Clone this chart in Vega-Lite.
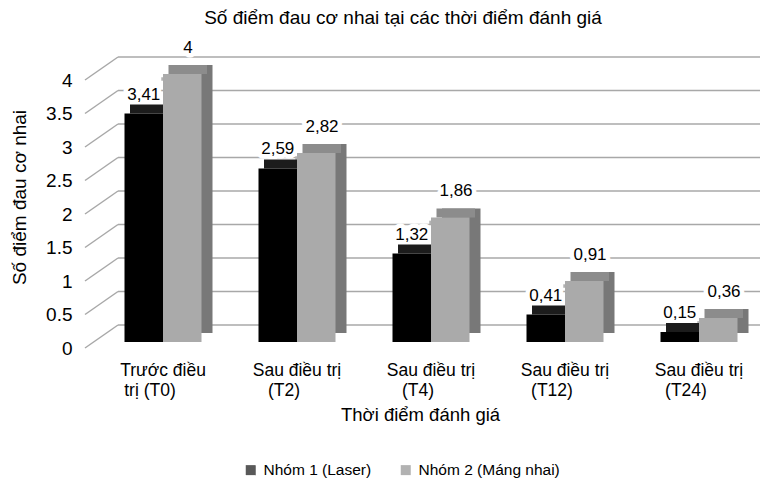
{
  "$schema": "https://vega.github.io/schema/vega-lite/v6.json",
  "width": 670,
  "height": 268,
  "autosize": {"type": "none"},
  "padding": {"left": 96, "top": 74, "right": 13, "bottom": 138},
  "background": "white",
  "title": {"text": "Số điểm đau cơ nhai tại các thời điểm đánh giá", "font": "Liberation Sans", "fontSize": 19, "fontWeight": "normal", "color": "#000000", "offset": 11, "dx": -28},
  "datasets": {
    "bars": [
      {"cat": "Trước điều trị (T0)", "g": "Nhóm 1 (Laser)", "v": 3.41, "lbl": "3,41"},
      {"cat": "Sau điều trị (T2)", "g": "Nhóm 1 (Laser)", "v": 2.59, "lbl": "2,59"},
      {"cat": "Sau điều trị (T4)", "g": "Nhóm 1 (Laser)", "v": 1.32, "lbl": "1,32"},
      {"cat": "Sau điều trị (T12)", "g": "Nhóm 1 (Laser)", "v": 0.41, "lbl": "0,41"},
      {"cat": "Sau điều trị (T24)", "g": "Nhóm 1 (Laser)", "v": 0.15, "lbl": "0,15"},
      {"cat": "Trước điều trị (T0)", "g": "Nhóm 2 (Máng nhai)", "v": 4, "lbl": "4"},
      {"cat": "Sau điều trị (T2)", "g": "Nhóm 2 (Máng nhai)", "v": 2.82, "lbl": "2,82"},
      {"cat": "Sau điều trị (T4)", "g": "Nhóm 2 (Máng nhai)", "v": 1.86, "lbl": "1,86"},
      {"cat": "Sau điều trị (T12)", "g": "Nhóm 2 (Máng nhai)", "v": 0.91, "lbl": "0,91"},
      {"cat": "Sau điều trị (T24)", "g": "Nhóm 2 (Máng nhai)", "v": 0.36, "lbl": "0,36"}
    ],
    "grid": [
      {"v": 0}, {"v": 0.5}, {"v": 1}, {"v": 1.5}, {"v": 2}, {"v": 2.5}, {"v": 3}, {"v": 3.5}, {"v": 4}
    ]
  },
  "config": {
    "view": {"stroke": null},
    "font": "Liberation Sans",
    "axis": {"labelFont": "Liberation Sans", "titleFont": "Liberation Sans", "labelColor": "#000000", "titleColor": "#000000", "titleFontWeight": "normal", "grid": false, "ticks": false, "domain": false},
    "axisY": {"labelFontSize": 19, "labelPadding": 24, "labelOffset": 6, "titleFontSize": 19, "titlePadding": 16, "titleY": 123, "values": [0, 0.5, 1, 1.5, 2, 2.5, 3, 3.5, 4], "format": "~g"},
    "axisX": {"labelFontSize": 17.5, "labelPadding": 19, "labelLineHeight": 20, "labelAngle": 0, "titleFontSize": 18.5, "titlePadding": 7, "titleX": 324,
      "labelExpr": "datum.label == 'Trước điều trị (T0)' ? ['Trước điều', 'trị (T0)\u2800\u2800'] : [slice(datum.label, 0, indexof(datum.label, ' (')), slice(datum.label, indexof(datum.label, ' (') + 1) + '\u2800\u2800']"},
    "legend": {"orient": "none", "legendX": 147, "legendY": 388, "direction": "horizontal", "title": null, "symbolType": "square", "symbolSize": 100, "symbolStrokeWidth": 0, "labelFont": "Liberation Sans", "labelFontSize": 15.5, "labelColor": "#000000", "columnPadding": 26, "labelOffset": 5}
  },
  "layer": [
    {
      "data": {"name": "grid"},
      "mark": {"type": "rule", "color": "#a8a8a8", "strokeWidth": 1.5, "yOffset": 6, "y2Offset": -17},
      "encoding": {
        "y": {"field": "v", "type": "quantitative", "scale": {"domain": [0, 4], "nice": false}, "title": "Số điểm đau cơ nhai"},
        "y2": {"field": "v"},
        "x": {"value": -11},
        "x2": {"value": 22}
      }
    },
    {
      "data": {"name": "grid"},
      "mark": {"type": "rule", "color": "#a8a8a8", "strokeWidth": 1.5, "yOffset": -17},
      "encoding": {
        "y": {"field": "v", "type": "quantitative", "title": "Số điểm đau cơ nhai"},
        "x": {"value": 22},
        "x2": {"value": 664}
      }
    },
    {
      "data": {"name": "bars"},
      "transform": [{"filter": "datum.g == 'Nhóm 1 (Laser)'"}],
      "mark": {"type": "text", "font": "Liberation Sans", "fontSize": 17, "fill": "white", "stroke": "white", "strokeWidth": 9, "strokeJoin": "round", "baseline": "middle", "align": "center", "xOffset": -19.25, "yOffset": -19},
      "encoding": {
        "x": {"field": "cat", "type": "nominal", "sort": null, "title": "Thời điểm đánh giá"},
        "y": {"field": "v", "type": "quantitative", "title": "Số điểm đau cơ nhai"},
        "text": {"field": "lbl"}
      }
    },
    {
      "data": {"name": "bars"},
      "transform": [{"filter": "datum.g == 'Nhóm 2 (Máng nhai)'"}],
      "mark": {"type": "text", "font": "Liberation Sans", "fontSize": 17, "fill": "white", "stroke": "white", "strokeWidth": 9, "strokeJoin": "round", "baseline": "middle", "align": "center", "xOffset": 25, "yOffset": -26},
      "encoding": {
        "x": {"field": "cat", "type": "nominal", "sort": null, "title": "Thời điểm đánh giá"},
        "y": {"field": "v", "type": "quantitative", "title": "Số điểm đau cơ nhai"},
        "text": {"field": "lbl"}
      }
    },
    {
      "data": {"name": "bars"},
      "mark": {"type": "square", "size": 12, "yOffset": 5, "opacity": 1},
      "encoding": {
        "x": {"field": "cat", "type": "nominal", "sort": null, "scale": {"paddingInner": 0, "paddingOuter": 0}, "title": "Thời điểm đánh giá"},
        "y": {"field": "v", "type": "quantitative", "title": "Số điểm đau cơ nhai"},
        "color": {"field": "g", "type": "nominal", "scale": {"domain": ["Nhóm 1 (Laser)", "Nhóm 2 (Máng nhai)"], "range": ["#595959", "#b2b2b2"]}}
      }
    },
    {
      "data": {"name": "bars"},
      "transform": [{"filter": "datum.g == 'Nhóm 2 (Máng nhai)'"}],
      "mark": {"type": "bar", "width": 38.5, "xOffset": 30.25, "yOffset": -9, "y2Offset": -9, "fill": "#787878"},
      "encoding": {
        "x": {"field": "cat", "type": "nominal", "sort": null, "title": "Thời điểm đánh giá"},
        "y": {"field": "v", "type": "quantitative", "title": "Số điểm đau cơ nhai"},
        "y2": {"datum": 0}
      }
    },
    {
      "data": {"name": "bars"},
      "transform": [{"filter": "datum.g == 'Nhóm 2 (Máng nhai)'"}],
      "mark": {"type": "bar", "width": 38.5, "xOffset": 24.75, "yOffset": -9, "fill": "#8c8c8c"},
      "encoding": {
        "x": {"field": "cat", "type": "nominal", "sort": null, "title": "Thời điểm đánh giá"},
        "y": {"field": "v", "type": "quantitative", "title": "Số điểm đau cơ nhai"},
        "y2": {"field": "v"}
      }
    },
    {
      "data": {"name": "bars"},
      "transform": [{"filter": "datum.g == 'Nhóm 1 (Laser)'"}],
      "mark": {"type": "bar", "width": 38.5, "xOffset": -13.75, "yOffset": -9, "fill": "#1c1c1c"},
      "encoding": {
        "x": {"field": "cat", "type": "nominal", "sort": null, "title": "Thời điểm đánh giá"},
        "y": {"field": "v", "type": "quantitative", "title": "Số điểm đau cơ nhai"},
        "y2": {"field": "v"}
      }
    },
    {
      "data": {"name": "bars"},
      "transform": [{"filter": "datum.g == 'Nhóm 1 (Laser)'"}],
      "mark": {"type": "bar", "width": 38.5, "xOffset": -19.25, "fill": "#000000"},
      "encoding": {
        "x": {"field": "cat", "type": "nominal", "sort": null, "title": "Thời điểm đánh giá"},
        "y": {"field": "v", "type": "quantitative", "title": "Số điểm đau cơ nhai"},
        "y2": {"datum": 0}
      }
    },
    {
      "data": {"name": "bars"},
      "transform": [{"filter": "datum.g == 'Nhóm 2 (Máng nhai)'"}],
      "mark": {"type": "bar", "width": 38.5, "xOffset": 19.25, "fill": "#aaaaaa"},
      "encoding": {
        "x": {"field": "cat", "type": "nominal", "sort": null, "title": "Thời điểm đánh giá"},
        "y": {"field": "v", "type": "quantitative", "title": "Số điểm đau cơ nhai"},
        "y2": {"datum": 0}
      }
    },
    {
      "data": {"name": "bars"},
      "transform": [{"filter": "datum.g == 'Nhóm 1 (Laser)'"}],
      "mark": {"type": "text", "font": "Liberation Sans", "fontSize": 17, "color": "#000000", "baseline": "middle", "align": "center", "xOffset": -19.25, "yOffset": -19},
      "encoding": {
        "x": {"field": "cat", "type": "nominal", "sort": null, "title": "Thời điểm đánh giá"},
        "y": {"field": "v", "type": "quantitative", "title": "Số điểm đau cơ nhai"},
        "text": {"field": "lbl"}
      }
    },
    {
      "data": {"name": "bars"},
      "transform": [{"filter": "datum.g == 'Nhóm 2 (Máng nhai)'"}],
      "mark": {"type": "text", "font": "Liberation Sans", "fontSize": 17, "color": "#000000", "baseline": "middle", "align": "center", "xOffset": 25, "yOffset": -26},
      "encoding": {
        "x": {"field": "cat", "type": "nominal", "sort": null, "title": "Thời điểm đánh giá"},
        "y": {"field": "v", "type": "quantitative", "title": "Số điểm đau cơ nhai"},
        "text": {"field": "lbl"}
      }
    }
  ]
}
